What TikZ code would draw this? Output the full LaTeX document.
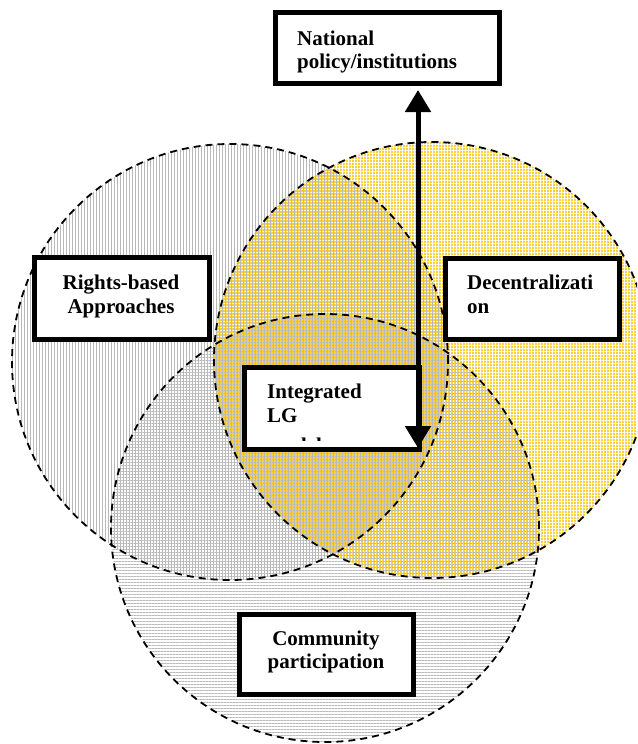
\documentclass[tikz,border=0pt]{standalone}
\usepackage{fontspec}
\setmainfont{Liberation Serif}
\usetikzlibrary{patterns.meta,arrows.meta}
\definecolor{decyellow}{RGB}{250,208,60}
\definecolor{hatchgray}{RGB}{185,185,185}
\tikzset{
  lbl/.style={font=\fontsize{21}{24.5}\selectfont\bfseries, inner sep=0pt},
  framebox/.style={draw=black, line width=5pt, fill=white, inner sep=0pt},
  circ/.style={draw=black, dash pattern=on 7pt off 5pt, line width=1.8pt},
  vhatch/.style={pattern={Lines[angle=90,distance=3pt,line width=0.45pt]}, pattern color=hatchgray},
  hhatch/.style={pattern={Lines[angle=0,distance=3pt,line width=0.45pt]}, pattern color=hatchgray},
  wvlines/.style={pattern={Lines[angle=90,distance=3pt,line width=0.7pt]}, pattern color=white},
  whlines/.style={pattern={Lines[angle=0,distance=3pt,line width=0.7pt]}, pattern color=white},
  bigarrow/.style={line width=5pt, {Triangle[width=25pt,length=22pt]}-{Triangle[width=25pt,length=22pt]}},
}
\begin{document}
\begin{tikzpicture}[x=1pt,y=-1pt]
\useasboundingbox (0,0) rectangle (637,744);
\begin{scope}
  \clip (0,0) rectangle (637,744);
  % Decentralization (yellow)
  \fill[decyellow] (432,360) circle (218pt);
  \fill[wvlines] (432,360) circle (218pt);
  \fill[whlines] (432,360) circle (218pt);
  % Rights-based (vertical hatch)
  \fill[vhatch] (230,362) circle (218pt);
  % Community (horizontal hatch)
  \fill[hhatch] (325,528) circle (214pt);
  \draw[circ] (432,360) circle (218pt);
  \draw[circ] (230,362) circle (218pt);
  \draw[circ] (325,528) circle (214pt);
\end{scope}

% boxes
\node[framebox, minimum width=224pt, minimum height=71pt] (nat) at (387.5,48) {};
\node[framebox, minimum width=175pt, minimum height=82pt] (rights) at (122,298.5) {};
\node[framebox, minimum width=174pt, minimum height=81pt] (dec) at (532.5,299) {};
\node[framebox, minimum width=175pt, minimum height=82pt] (lg) at (332,408.5) {};
\node[framebox, minimum width=174pt, minimum height=80pt] (comm) at (326.5,654.5) {};

% labels
\node[lbl, anchor=base west] (nat1) at (297,45) {National};
\node[lbl, anchor=base west] (nat2) at (297,68) {policy/institutions};
\node[lbl, anchor=base] (r1) at (121,289) {Rights-based};
\node[lbl, anchor=base] (r2) at (121,313) {Approaches};
\node[lbl, anchor=base west] (d1) at (467,289) {Decentralizati};
\node[lbl, anchor=base west] (d2) at (467,313) {on};
\node[lbl, anchor=base] (c1) at (326,645) {Community};
\node[lbl, anchor=base] (c2) at (326,668) {participation};
\begin{scope}
  \clip (245,368) rectangle (419,440);
  \node[lbl, anchor=base west] (g1) at (267,398) {Integrated};
  \node[lbl, anchor=base west] (g2) at (267,422) {LG};
  \node[lbl, anchor=base west] (g3) at (267,452) {model};
\end{scope}

% arrow
\coordinate (atop) at (418,90);
\coordinate (abot) at (418,448);
\draw[bigarrow] (atop) -- (abot);
\end{tikzpicture}
\end{document}
